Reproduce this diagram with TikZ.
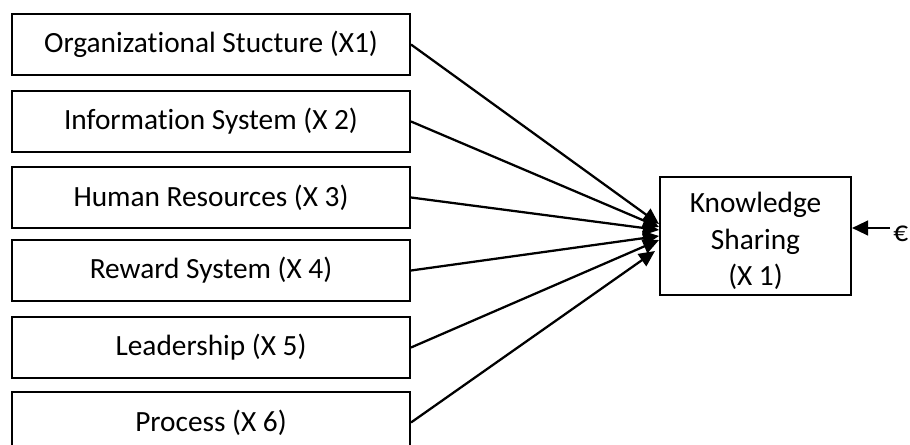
\documentclass[tikz,border=0pt]{standalone}
\usepackage{fontspec}
\setmainfont{Carlito}[Ligatures=NoCommon]
\usetikzlibrary{arrows.meta}
\begin{document}
\begin{tikzpicture}[x=0.75pt,y=-0.75pt,
  box/.style={draw,line width=1.5pt,inner sep=0pt,font=\fontsize{22}{26}\selectfont},
  lbox/.style={box,minimum width=298.5pt,minimum height=45.75pt},
  conn/.style={line width=1.7pt,-{Triangle[length=12pt,width=11pt]}}]
\useasboundingbox (0,0) rectangle (910,445);
\clip (0,0) rectangle (910,445);
\node[lbox] (x1) at (211,44.5) {Organizational Stucture (X1)};
\node[lbox] (x2) at (211,121.5) {Information System (X 2)};
\node[lbox] (x3) at (211,197.5) {Human Resources (X 3)};
\node[lbox] (x4) at (211,270.5) {Reward System (X 4)};
\node[lbox] (x5) at (211,347.5) {Leadership (X 5)};
\node[lbox] (x6) at (211,422.5) {Process (X 6)};
\node[box,minimum width=143.25pt,minimum height=88.5pt] (ks) at (755.5,236) {};
\node[font=\fontsize{22}{27.5}\selectfont,align=center,inner sep=0pt] (kst) at (755.5,241) {Knowledge\\Sharing\\(X 1)};
\node[font=\fontsize{22}{26}\selectfont,inner sep=0pt,anchor=west] (e) at (893,234) {€};
\coordinate (t1) at (659,224);
\coordinate (t2) at (659,227);
\coordinate (t3) at (659,230);
\coordinate (t4) at (659,236);
\coordinate (t5) at (659,240);
\coordinate (t6) at (655,251);
\coordinate (es) at (890,228);
\draw[conn] (x1.east) -- (t1);
\draw[conn] (x2.east) -- (t2);
\draw[conn] (x3.east) -- (t3);
\draw[conn] (x4.east) -- (t4);
\draw[conn] (x5.east) -- (t5);
\draw[conn] (x6.east) -- (t6);
\draw[conn] (es) -- (ks.east |- es);
\end{tikzpicture}
\end{document}
